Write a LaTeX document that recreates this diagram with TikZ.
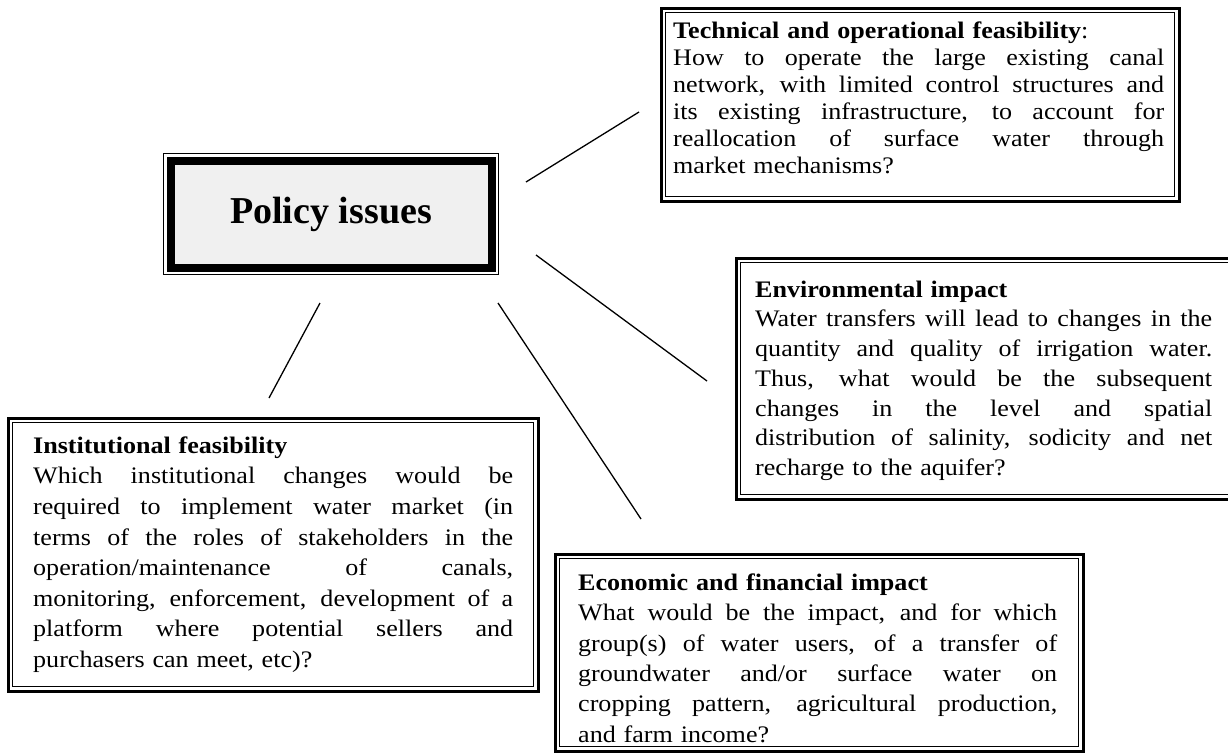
\documentclass[tikz,border=0pt]{standalone}
\usepackage{fontspec}
\setmainfont{Liberation Serif}
\newfontfamily\bodyfont{Liberation Serif}[FakeStretch=1.1]
\newcommand\jl[2]{\leavevmode\hbox to #1{\spaceskip=0.25em plus 1fil\relax #2}\\}
\newcommand\fs[1]{\fontsize{23.7}{#1}\bodyfont}
\begin{document}
\begin{tikzpicture}[x=1pt,y=-1pt,
  outerrect/.style={draw=black,line width=2.6pt,inner sep=0pt,anchor=north west},
  innerrect/.style={draw=black,line width=0.9pt,inner sep=0pt},
  txt/.style={anchor=north west,inner sep=0pt,align=left},
  conn/.style={draw=black,line width=1.3pt}]
\useasboundingbox (0,0) rectangle (1228,753);
\clip (0,0) rectangle (1228,753);
\fill[white] (0,0) rectangle (1228,753);

% central box
\node[draw=black,line width=1pt,inner sep=0pt,anchor=north west,
      minimum width=335,minimum height=121] (pol) at (163,153) {};
\node[draw=black,line width=8pt,fill=black!6,inner sep=0pt,
      minimum width=321,minimum height=107] (polin) at (pol.center) {};
\node[inner sep=0pt,anchor=base,font=\fontsize{38}{44}\selectfont\bfseries] (poltxt) at (331,223) {Policy issues};

% technical box
\node[outerrect,minimum width=518,minimum height=193] (tech) at (660,7) {};
\node[innerrect,minimum width=509,minimum height=184] (techin) at (tech.center) {};
\node[txt,text width=491,font=\fs{27}] (techtxt) at (673,21) {\rule{0pt}{17pt}\textbf{Technical and operational feasibility}:\\
\jl{491pt}{How to operate the large existing canal}
\jl{491pt}{network, with limited control structures and}
\jl{491pt}{its existing infrastructure, to account for}
\jl{491pt}{reallocation of surface water through}
market mechanisms?};

% environmental box
\node[outerrect,minimum width=510,minimum height=241] (env) at (735,257) {};
\node[innerrect,minimum width=501,minimum height=232] (envin) at (env.center) {};
\node[txt,text width=457,font=\fs{29.7}] (envtxt) at (755,280) {\rule{0pt}{17pt}\textbf{Environmental impact}\\
\jl{457pt}{Water transfers will lead to changes in the}
\jl{457pt}{quantity and quality of irrigation water.}
\jl{457pt}{Thus, what would be the subsequent}
\jl{457pt}{changes in the level and spatial}
\jl{457pt}{distribution of salinity, sodicity and net}
recharge to the aquifer?};

% institutional box
\node[outerrect,minimum width=530,minimum height=273] (inst) at (7,417) {};
\node[innerrect,minimum width=521,minimum height=264] (instin) at (inst.center) {};
\node[txt,text width=480,font=\fs{30.6}] (insttxt) at (33,436) {\rule{0pt}{17pt}\textbf{Institutional feasibility}\\
\jl{480pt}{Which institutional changes would be}
\jl{480pt}{required to implement water market (in}
\jl{480pt}{terms of the roles of stakeholders in the}
\jl{480pt}{operation/maintenance of canals,}
\jl{480pt}{monitoring, enforcement, development of a}
\jl{480pt}{platform where potential sellers and}
purchasers can meet, etc)?};

% economic box
\node[outerrect,minimum width=528,minimum height=197] (eco) at (554,553) {};
\node[innerrect,minimum width=519,minimum height=188] (ecoin) at (eco.center) {};
\node[txt,text width=479,font=\fs{30.4}] (ecotxt) at (578,573) {\rule{0pt}{17pt}\textbf{Economic and financial impact}\\
\jl{479pt}{What would be the impact, and for which}
\jl{479pt}{group(s) of water users, of a transfer of}
\jl{479pt}{groundwater and/or surface water on}
\jl{479pt}{cropping pattern, agricultural production,}
and farm income?};

% connectors
\coordinate (c1a) at (526,182); \coordinate (c1b) at (639,112);
\coordinate (c2a) at (536,255); \coordinate (c2b) at (707,381);
\coordinate (c3a) at (498,303); \coordinate (c3b) at (641,519);
\coordinate (c4a) at (320,303); \coordinate (c4b) at (269,398);
\draw[conn] (c1a) -- (c1b);
\draw[conn] (c2a) -- (c2b);
\draw[conn] (c3a) -- (c3b);
\draw[conn] (c4a) -- (c4b);
\end{tikzpicture}
\end{document}
